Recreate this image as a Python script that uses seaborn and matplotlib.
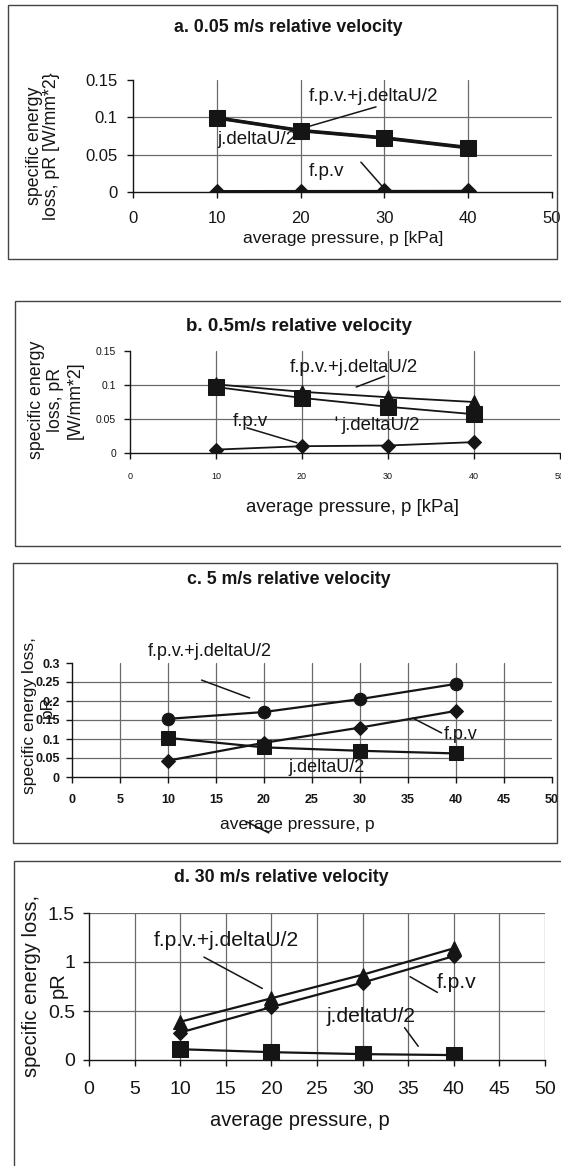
import matplotlib
matplotlib.use("Agg")
import matplotlib.pyplot as plt
import seaborn as sns
import pandas as pd
import numpy as np
from matplotlib.patches import Rectangle
from matplotlib.ticker import FuncFormatter

# ---------------- data ----------------
pressure = [10, 20, 30, 40]

# a. 0.05 m/s
a_j = [0.099, 0.082, 0.072, 0.059]
a_f = [0.0005, 0.0006, 0.0007, 0.0008]
a_sum = [0.0995, 0.0826, 0.0727, 0.0598]

# b. 0.5 m/s
b_j = [0.097, 0.081, 0.068, 0.057]
b_f = [0.005, 0.010, 0.011, 0.016]
b_sum = [0.101, 0.090, 0.082, 0.075]

# c. 5 m/s
c_j = [0.103, 0.078, 0.069, 0.062]
c_f = [0.043, 0.090, 0.130, 0.174]
c_sum = [0.153, 0.171, 0.205, 0.245]

# d. 30 m/s
d_j = [0.11, 0.08, 0.06, 0.05]
d_f = [0.28, 0.54, 0.79, 1.06]
d_sum = [0.39, 0.63, 0.87, 1.14]

titles = ["a. 0.05 m/s relative velocity", "b. 0.5m/s relative velocity",
          "c. 5 m/s relative velocity", "d. 30 m/s relative velocity"]
xlabels = ["average pressure, p [kPa]", "average pressure, p [kPa]",
           "average pressure, p", "average pressure, p"]
ylabels = ["specific energy\nloss, pR [W/mm*2}", "specific energy\nloss, pR\n[W/mm*2]",
           ["specific energy loss,", "pR"], ["specific energy loss,", "pR"]]
lbl_sum = "f.p.v.+j.deltaU/2"
lbl_j = "j.deltaU/2"
lbl_f = "f.p.v"

# ---------------- style ----------------
sns.set_style("white")
plt.rcParams['font.family'] = ['Liberation Sans', 'DejaVu Sans']
INK = "#151515"
GRID = "#6a6a6a"

W, H = 561, 1166
fig = plt.figure(figsize=(W / 100, H / 100), dpi=100)
fig.patch.set_facecolor("white")


def fx(px):
    return px / W


def fy(py):
    return 1 - py / H


def make_axes(x0, x1, y0, y1):
    return fig.add_axes([fx(x0), fy(y0), (x1 - x0) / W, (y0 - y1) / H])


def box(x0, y0, x1, y1):
    fig.patches.append(Rectangle((fx(x0), fy(y1)), (x1 - x0) / W, (y1 - y0) / H,
                                 transform=fig.transFigure, fill=False,
                                 edgecolor="#444444", linewidth=1.0))


def series(ax, y, marker, ms, lw, label):
    df = pd.DataFrame({"p": pressure, "v": y})
    sns.lineplot(data=df, x="p", y="v", ax=ax, color=INK, linewidth=lw,
                 marker=marker, markersize=ms, markeredgecolor=INK,
                 markerfacecolor=INK, label=label, legend=False)


def style_axes(ax, ylim, xstep, ystep, tick_fs, tick_bold, xpad, ypad,
               hide_top_grid=True, vgrid_all=True):
    ax.set_xlim(0, 50)
    ax.set_ylim(*ylim)
    ax.set_xticks(np.arange(0, 50.01, xstep))
    ax.set_yticks(np.round(np.arange(ylim[0], ylim[1] + 1e-9, ystep), 4))
    ax.yaxis.set_major_formatter(FuncFormatter(lambda v, p: f"{v:g}"))
    ax.xaxis.set_major_formatter(FuncFormatter(lambda v, p: f"{v:g}"))
    for s in ["top", "right"]:
        ax.spines[s].set_visible(False)
    for s in ["left", "bottom"]:
        ax.spines[s].set_color(INK)
        ax.spines[s].set_linewidth(1.0)
    ax.tick_params(axis="both", direction="out", length=4, width=1, color=INK,
                   labelcolor=INK, labelsize=tick_fs, left=True, bottom=True)
    ax.tick_params(axis="x", pad=xpad)
    ax.tick_params(axis="y", pad=ypad)
    for t in ax.get_xticklabels() + ax.get_yticklabels():
        t.set_fontweight("bold" if tick_bold else "normal")
    ax.grid(True, color=GRID, linewidth=0.9)
    ax.set_axisbelow(True)
    gl = ax.get_ygridlines()
    gl[0].set_visible(False)
    if hide_top_grid:
        gl[-1].set_visible(False)
    xg = ax.get_xgridlines()
    xg[0].set_visible(False)
    if not vgrid_all:
        xg[-1].set_visible(False)
    ax.set_xlabel("")
    ax.set_ylabel("")
    ax.patch.set_alpha(0)


def note(ax, text, x, y, fs, line=None):
    ax.text(x, y, text, fontsize=fs, color=INK, ha="left", va="center",
            clip_on=False)
    if line is not None:
        ax.annotate("", xy=line[1], xytext=line[0],
                    arrowprops=dict(arrowstyle="-", color=INK, lw=1.1,
                                    shrinkA=0, shrinkB=0),
                    annotation_clip=False)


# ---------------- panel a ----------------
box(8, 5, 557, 259)
axa = make_axes(133, 552, 192, 80)
series(axa, a_sum, "^", 10, 2.3, lbl_sum)
series(axa, a_f, "D", 8.5, 2.3, lbl_f)
series(axa, a_j, "s", 11.5, 2.3, lbl_j)
style_axes(axa, (0, 0.15), 10, 0.05, 12, False, 10, 7, vgrid_all=False)
note(axa, lbl_sum, 21.0, 0.128, 13.5, ((29.0, 0.114), (19.8, 0.084)))
note(axa, lbl_j, 10.1, 0.070, 13.5)
note(axa, lbl_f, 21.0, 0.028, 13.5, ((27.2, 0.040), (30.1, 0.003)))
fig.text(fx(288), fy(27), titles[0], ha="center", va="center", fontsize=12.8,
         fontweight="bold", color=INK)
fig.text(fx(343), fy(238), xlabels[0], ha="center", va="center", fontsize=12.6,
         color=INK)
fig.text(fx(43), fy(146), ylabels[0], ha="center", va="center", fontsize=12.8,
         rotation=90, color=INK, linespacing=1.0, multialignment="center")

# ---------------- panel b ----------------
box(15, 301, 575, 546)
axb = make_axes(130, 560, 453, 351)
series(axb, b_sum, "^", 10.5, 1.3, lbl_sum)
series(axb, b_f, "D", 7.5, 1.3, lbl_f)
series(axb, b_j, "s", 11, 1.3, lbl_j)
style_axes(axb, (0, 0.15), 10, 0.05, 7.5, False, 10, 6, vgrid_all=False)
for t in axb.get_xticklabels():
    t.set_fontsize(6.5)
note(axb, lbl_sum, 18.6, 0.125, 13.4, ((26.3, 0.097), (29.6, 0.113)))
note(axb, lbl_j, 24.6, 0.041, 13.4, ((24.0, 0.053), (24.0, 0.048)))
note(axb, lbl_f, 12.0, 0.046, 13.4, ((13.6, 0.037), (19.4, 0.015)))
fig.text(fx(299), fy(327), titles[1], ha="center", va="center", fontsize=13.5,
         fontweight="bold", color=INK)
fig.text(fx(353), fy(507), xlabels[1], ha="center", va="center", fontsize=13.4,
         color=INK)
fig.text(fx(56), fy(400), ylabels[1], ha="center", va="center", fontsize=12.8,
         rotation=90, color=INK, linespacing=1.2, multialignment="center")

# ---------------- panel c ----------------
box(13, 563, 557, 843)
axc = make_axes(72, 552, 777, 663)
series(axc, c_sum, "o", 9, 1.6, lbl_sum)
series(axc, c_f, "D", 6.8, 1.6, lbl_f)
series(axc, c_j, "s", 10, 1.6, lbl_j)
style_axes(axc, (0, 0.3), 5, 0.05, 9, True, 8, 5, vgrid_all=False)
note(axc, lbl_sum, 7.9, 0.329, 13, ((13.5, 0.255), (18.5, 0.208)))
note(axc, lbl_f, 38.7, 0.113, 13, ((35.5, 0.155), (38.5, 0.116)))
note(axc, lbl_j, 22.5, 0.026, 13)
axc.annotate("", xy=(20.5, -0.147), xytext=(18.2, -0.118),
             arrowprops=dict(arrowstyle="-", color=INK, lw=1.1, shrinkA=0, shrinkB=0),
             annotation_clip=False)
fig.text(fx(289), fy(580), titles[2], ha="center", va="center", fontsize=12.8,
         fontweight="bold", color=INK)
fig.text(fx(297), fy(825), xlabels[2], ha="center", va="center", fontsize=12.5,
         color=INK)
fig.text(fx(30), fy(716), ylabels[2][0], ha="center", va="center", fontsize=12.5,
         rotation=90, color=INK)
fig.text(fx(47), fy(707), ylabels[2][1], ha="center", va="center", fontsize=12.5,
         rotation=90, color=INK)

# ---------------- panel d ----------------
box(14, 861, 575, 1180)
axd = make_axes(89, 545, 1060, 913)
series(axd, d_sum, "^", 10.5, 1.6, lbl_sum)
series(axd, d_f, "D", 7.5, 1.6, lbl_f)
series(axd, d_j, "s", 11, 1.6, lbl_j)
style_axes(axd, (0, 1.5), 5, 0.5, 14, False, 11, 6, hide_top_grid=False)
note(axd, lbl_sum, 7.1, 1.22, 15.2, ((12.6, 1.05), (19.0, 0.73)))
note(axd, lbl_f, 38.1, 0.79, 15.2, ((35.2, 0.85), (38.2, 0.69)))
note(axd, lbl_j, 26.1, 0.44, 15.2, ((34.6, 0.33), (36.1, 0.14)))
fig.text(fx(281), fy(878), titles[3], ha="center", va="center", fontsize=12.8,
         fontweight="bold", color=INK)
fig.text(fx(300), fy(1120), xlabels[3], ha="center", va="center", fontsize=14.5,
         color=INK)
fig.text(fx(32), fy(986), ylabels[3][0], ha="center", va="center", fontsize=14.5,
         rotation=90, color=INK)
fig.text(fx(58), fy(985), ylabels[3][1], ha="center", va="center", fontsize=14.5,
         rotation=90, color=INK)

fig.savefig("out.png", dpi=100, facecolor="white")
